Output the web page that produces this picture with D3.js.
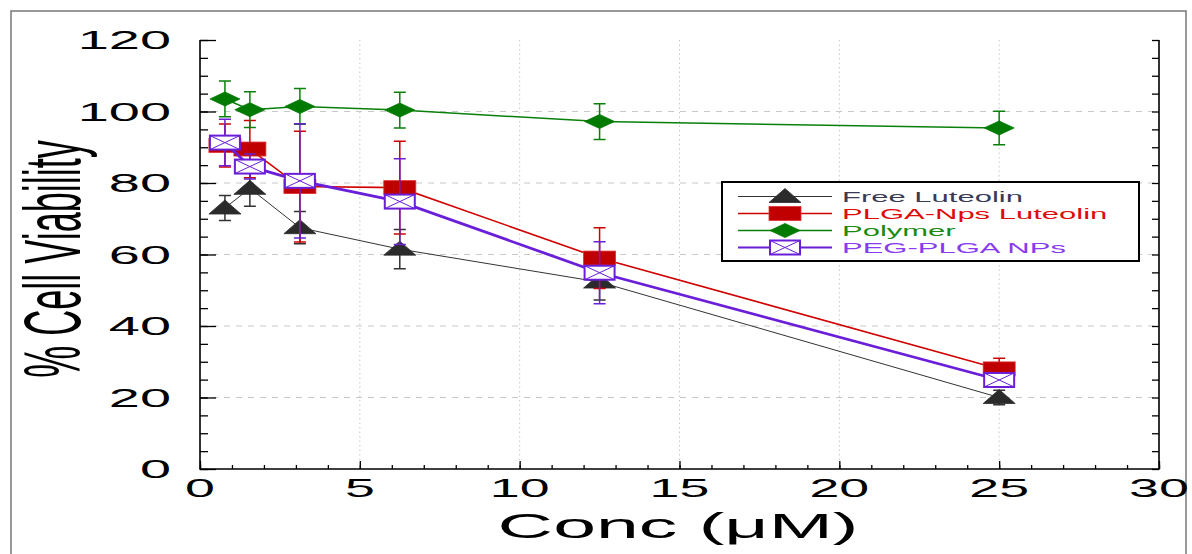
<!DOCTYPE html>
<html>
<head>
<meta charset="utf-8">
<script src="https://cdn.jsdelivr.net/npm/d3@7"></script>
<style>
  html, body { margin: 0; padding: 0; background: #fff; }
  svg { display: block; }
  text { font-family: "Liberation Sans", Arial, sans-serif; }
</style>
</head>
<body>
<svg id="chart" width="1192" height="554"></svg>
<script>
// ---- data ----
const conc = [0.78, 1.56, 3.125, 6.25, 12.5, 25];
const seriesNames = ["Free Luteolin", "PLGA-Nps Luteolin", "Polymer", "PEG-PLGA NPs"];
const freeLuteolin = [73, 78.5, 67.5, 61.5, 52.3, 20];
const freeLuteolinErr = [3.5, 5, 4.5, 5.5, 5, 2];
const plgaNps = [90.5, 89.5, 79, 78.7, 59, 28];
const plgaNpsErr = [6, 8, 15.5, 13, 8.5, 3];
const polymer = [103.5, 100.5, 101.4, 100.4, 97.2, 95.4];
const polymerErr = [5, 5, 5, 5, 5, 4.7];
const pegPlga = [91.3, 84.6, 80.6, 74.8, 54.9, 24.9];
const pegPlgaErr = [6.5, 3.5, 16, 12, 8.7, 2];
const xTicks = [0, 5, 10, 15, 20, 25, 30];
const yTicks = [0, 20, 40, 60, 80, 100, 120];

// ---- layout ----
const svg = d3.select("#chart");
const X0 = 200, X1 = 1159, Y0 = 469, Y1 = 40;
const SX = 2.15; // horizontal stretch of text / markers
const x = d3.scaleLinear().domain([0, 30]).range([X0, X1]);
const y = d3.scaleLinear().domain([0, 120]).range([Y0, Y1]);

// outer frame
svg.append("path")
  .attr("d", `M11,560 L11,11 L1186,11 L1186,560`)
  .attr("fill", "none").attr("stroke", "#777").attr("stroke-width", 1.5);

// grid
const grid = svg.append("g");
grid.selectAll("line.gx").data(xTicks.filter(d => d > 0 && d < 30)).enter().append("line")
  .attr("x1", d => x(d)).attr("x2", d => x(d)).attr("y1", Y1).attr("y2", Y0)
  .attr("stroke", "#c8c8c8").attr("stroke-width", 1).attr("stroke-dasharray", "1.5,3");
grid.selectAll("line.gy").data(yTicks.filter(d => d > 0 && d < 120)).enter().append("line")
  .attr("x1", X0).attr("x2", X1).attr("y1", d => y(d)).attr("y2", d => y(d))
  .attr("stroke", "#c8c8c8").attr("stroke-width", 1).attr("stroke-dasharray", "6,6");

// axes via d3 axis generators
const xMinor = d3.range(0, 31, 1);
const yMinor = d3.range(0, 121, 5);
const axX = svg.append("g").attr("transform", `translate(0,${Y0})`)
  .call(d3.axisTop(x).tickValues(xMinor).tickSize(4).tickFormat(""));
axX.select(".domain").remove();
const axXMaj = svg.append("g").attr("transform", `translate(0,${Y0})`)
  .call(d3.axisTop(x).tickValues(xTicks).tickSize(8).tickFormat(""));
axXMaj.select(".domain").remove();
const axY = svg.append("g").attr("transform", `translate(${X0},0)`)
  .call(d3.axisRight(y).tickValues(yMinor).tickSize(8).tickFormat(""));
axY.select(".domain").remove();
const axYMaj = svg.append("g").attr("transform", `translate(${X0},0)`)
  .call(d3.axisRight(y).tickValues(yTicks).tickSize(16).tickFormat(""));
axYMaj.select(".domain").remove();
const axYR = svg.append("g").attr("transform", `translate(${X1},0)`)
  .call(d3.axisLeft(y).tickValues(yMinor).tickSize(7).tickFormat(""));
axYR.select(".domain").remove();
svg.selectAll(".tick line").attr("stroke", "#000").attr("stroke-width", 1.3);

// axis lines
svg.append("path").attr("d", `M${X0},${Y1} L${X0},${Y0} L${X1},${Y0} L${X1},${Y1}`)
  .attr("fill", "none").attr("stroke", "#000").attr("stroke-width", 1.6);

// tick labels
svg.selectAll("text.xt").data(xTicks).enter().append("text")
  .attr("transform", d => `translate(${x(d)},497) scale(${SX},1)`)
  .attr("text-anchor", "middle").attr("font-size", 25).attr("fill", "#000").text(d => d);
svg.selectAll("text.yt").data(yTicks).enter().append("text")
  .attr("transform", d => `translate(171,${y(d) + 9}) scale(${SX},1)`)
  .attr("text-anchor", "end").attr("font-size", 26).attr("fill", "#000").text(d => d);

// axis titles
svg.append("text")
  .attr("transform", `translate(678,538) scale(2.2,1)`)
  .attr("text-anchor", "middle").attr("font-size", 35).attr("fill", "#000")
  .text("Conc (μM)");
svg.append("text")
  .attr("transform", `translate(80,259) scale(2.2,1) rotate(-90)`)
  .attr("text-anchor", "middle").attr("font-size", 36).attr("fill", "#000")
  .text("% Cell Viability");

// markers
const HW = 16, HH = 7;
function drawMarker(g, type, cx, cy, color) {
  if (type === "tri") {
    g.append("path").attr("d", `M${cx},${cy - HH - 1} L${cx + HW},${cy + HH - 1} L${cx - HW},${cy + HH - 1}Z`)
      .attr("fill", "#2b2b2b").attr("stroke", "#2b2b2b").attr("stroke-width", 0.8);
  } else if (type === "sq") {
    g.append("rect").attr("x", cx - HW).attr("y", cy - HH).attr("width", 2 * HW).attr("height", 2 * HH)
      .attr("fill", "#c00000").attr("stroke", "#e03030").attr("stroke-width", 0.8);
  } else if (type === "dia") {
    g.append("path").attr("d", `M${cx},${cy - HH} L${cx + HW - 1},${cy} L${cx},${cy + HH} L${cx - HW + 1},${cy}Z`)
      .attr("fill", "#007a00").attr("stroke", "#007a00").attr("stroke-width", 0.8);
  } else if (type === "box") {
    g.append("rect").attr("x", cx - HW + 1).attr("y", cy - HH).attr("width", 2 * HW - 2).attr("height", 2 * HH)
      .attr("fill", "#fff").attr("stroke", color).attr("stroke-width", 2);
    g.append("path").attr("d", `M${cx - HW + 1},${cy - HH} L${cx + HW - 1},${cy + HH} M${cx + HW - 1},${cy - HH} L${cx - HW + 1},${cy + HH}`)
      .attr("stroke", color).attr("stroke-width", 1).attr("fill", "none");
  }
}

const series = [
  { name: seriesNames[0], vals: freeLuteolin, err: freeLuteolinErr, color: "#333333", lw: 1, m: "tri", text: "#3a3a55" },
  { name: seriesNames[1], vals: plgaNps, err: plgaNpsErr, color: "#d00000", lw: 1.6, m: "sq", text: "#e00a0a" },
  { name: seriesNames[2], vals: polymer, err: polymerErr, color: "#0a800a", lw: 1.5, m: "dia", text: "#1a8a10" },
  { name: seriesNames[3], vals: pegPlga, err: pegPlgaErr, color: "#6a1ed8", lw: 2.8, m: "box", text: "#8a3af0" }
];

const line = d3.line().x(d => x(d[0])).y(d => y(d[1]));
series.forEach(s => {
  const g = svg.append("g");
  const pts = conc.map((c, i) => [c, s.vals[i], s.err[i]]);
  g.append("path").datum(pts).attr("d", line)
    .attr("fill", "none").attr("stroke", s.color).attr("stroke-width", s.lw);
  pts.forEach(p => {
    const cx = x(p[0]), t = y(p[1] + p[2]), b = y(p[1] - p[2]);
    g.append("path").attr("d", `M${cx},${t} L${cx},${b} M${cx - 6},${t} L${cx + 6},${t} M${cx - 6},${b} L${cx + 6},${b}`)
      .attr("stroke", s.color).attr("stroke-width", 1.5).attr("fill", "none");
  });
  pts.forEach(p => drawMarker(g, s.m, x(p[0]), y(p[1]), s.color));
});

// legend
const lg = svg.append("g");
lg.append("rect").attr("x", 722).attr("y", 182).attr("width", 417).attr("height", 79)
  .attr("fill", "#fff").attr("stroke", "#000").attr("stroke-width", 2);
series.forEach((s, i) => {
  const cy = 196.5 + 17 * i;
  lg.append("line").attr("x1", 738).attr("x2", 832).attr("y1", cy).attr("y2", cy)
    .attr("stroke", s.color).attr("stroke-width", Math.min(s.lw, 2));
  drawMarker(lg, s.m, 785, cy, s.color);
  lg.append("text").attr("transform", `translate(842,${cy + 5.5}) scale(2.0,1)`)
    .attr("font-size", 15.5).attr("fill", s.text).text(s.name);
});
</script>
</body>
</html>
